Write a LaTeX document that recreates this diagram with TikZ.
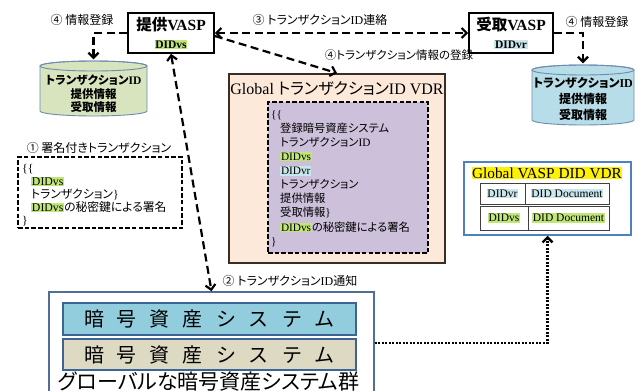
\documentclass[tikz,border=0pt]{standalone}
\usepackage{fontspec}
\setmainfont{Liberation Serif}
\newfontfamily\jp{Noto Sans CJK JP}[RawFeature=+palt]
\usetikzlibrary{arrows.meta}
\chardef\CJKclass=10
\newcount\cjkcnt
\def\setcjkrange#1#2{\cjkcnt=#1\relax
  \loop\XeTeXcharclass\cjkcnt=\CJKclass\relax
  \ifnum\cjkcnt<#2\relax\advance\cjkcnt by 1\relax\repeat}
\setcjkrange{"2460}{"24FF}
\setcjkrange{"3000}{"30FF}
\setcjkrange{"4E00}{"9FFF}
\setcjkrange{"FF00}{"FFEF}
\XeTeXinterchartokenstate=1
\XeTeXinterchartoks 0 \CJKclass={\jp}
\XeTeXinterchartoks 4095 \CJKclass={\jp}
\XeTeXinterchartoks \CJKclass 0={\rmfamily}
\XeTeXinterchartoks 4095 0={\rmfamily}
\definecolor{hlgreen}{RGB}{192,230,122}
\definecolor{hlblue}{RGB}{200,230,236}
\definecolor{cylgreen}{RGB}{215,228,189}
\definecolor{cylblue}{RGB}{183,221,232}
\definecolor{cylbd}{RGB}{110,140,175}
\definecolor{peach}{RGB}{253,233,217}
\definecolor{lavender}{RGB}{204,192,218}
\definecolor{gvbd}{RGB}{60,45,35}
\definecolor{blbd}{RGB}{79,129,189}
\definecolor{barblue}{RGB}{146,205,221}
\definecolor{bartan}{RGB}{221,217,195}
\definecolor{barbd}{RGB}{60,100,150}
\definecolor{sysbd}{RGB}{80,110,150}
\newcommand\hlG[1]{{\setlength\fboxsep{0.8pt}\colorbox{hlgreen}{#1}}}
\newcommand\hlB[1]{{\setlength\fboxsep{0.8pt}\colorbox{hlblue}{#1}}}
\newcommand\cbx[1]{\makebox[33pt]{#1}}
\begin{document}
\begin{tikzpicture}[x=1pt,y=-1pt,
  >={Straight Barb[length=5pt,width=10pt]},
  darr/.style={line width=2.2pt, dash pattern=on 8pt off 4.5pt},
  dotarr/.style={line width=2.4pt, dash pattern=on 2.2pt off 1.3pt},
  vasp/.style={draw, line width=1.6pt, fill=white, minimum width=86pt, minimum height=40pt, align=center, inner sep=1pt, font=\fontsize{15.5}{18}\selectfont},
  lab/.style={inner sep=0, font=\fontsize{12}{14}\selectfont},
  dbox/.style={draw, line width=1.5pt, dash pattern=on 4.5pt off 2.2pt, inner sep=0},
  cell/.style={draw=black!75, line width=1pt, inner sep=0, font=\fontsize{11.5}{12}\selectfont},
  bar/.style={draw=barbd, line width=1.3pt, minimum width=293pt, inner sep=0, font=\fontsize{20}{22}\selectfont}]
\useasboundingbox (0,0) rectangle (638,391);

% cylinders
\path[draw=cylbd, line width=0.9pt, fill=cylgreen] (40,66) -- (40,111) arc[start angle=180, end angle=360, x radius=53.5pt, y radius=5pt] -- (147,66) arc[start angle=0, end angle=180, x radius=53.5pt, y radius=5pt] -- cycle;
\draw[cylbd, line width=0.9pt] (93.5,66) ellipse [x radius=53.5pt, y radius=5pt];
\node[minimum width=107pt, minimum height=55pt, inner sep=0] (cylL) at (93.5,88.5) {};
\node[align=center, inner sep=0, font=\fontsize{11.5}{13.5}\selectfont\bfseries] (cylLt) at (93.5,94) {トランザクションID\\提供情報\\受取情報};

\path[draw=cylbd, line width=0.9pt, fill=cylblue] (532,70) -- (532,120) arc[start angle=180, end angle=360, x radius=51pt, y radius=5pt] -- (634,70) arc[start angle=0, end angle=180, x radius=51pt, y radius=5pt] -- cycle;
\draw[cylbd, line width=0.9pt] (583,70) ellipse [x radius=51pt, y radius=5pt];
\node[minimum width=102pt, minimum height=60pt, inner sep=0] (cylR) at (583,95) {};
\node[align=center, inner sep=0, font=\fontsize{12}{16}\selectfont\bfseries] (cylRt) at (583,99.5) {トランザクションID\\提供情報\\受取情報};

% Global transaction VDR
\node[draw=gvbd, line width=1.8pt, fill=peach, minimum width=216pt, minimum height=189pt, inner sep=0] (gvdr) at (337,168.5) {};
\node[inner sep=0, font=\fontsize{16}{18}\selectfont] (gvt) at (337,89) {Global トランザクションID VDR};
\node[dbox, fill=lavender, minimum width=160pt, minimum height=151pt] (inb) at (348,177.5) {};
\node[anchor=west, align=left, inner sep=0, font=\fontsize{11.3}{14.1}\selectfont] (inbt) at (271,178.5) {\{\{\\
\hspace*{9pt}登録暗号資産システム\\
\hspace*{9pt}トランザクションID\\
\hspace*{9pt}\hlG{DIDvs}\\
\hspace*{9pt}\hlB{DIDvr}\\
\hspace*{9pt}トランザクション\\
\hspace*{9pt}提供情報\\
\hspace*{9pt}受取情報\}\\
\hspace*{9pt}\hlG{DIDvs}の秘密鍵による署名\\
\}};

% signed transaction box
\node[dbox, minimum width=164pt, minimum height=71pt] (sigb) at (100,192.5) {};
\node[anchor=west, align=left, inner sep=0, font=\fontsize{11.8}{13}\selectfont] (sigt) at (22,195) {\{\{\\
\hspace*{9pt}\hlG{DIDvs}\\
\hspace*{9pt}トランザクション\}\\
\hspace*{9pt}\hlG{DIDvs}の秘密鍵による署名\\
\}};

% Global VASP DID VDR
\node[draw=blbd, line width=1.5pt, fill=white, minimum width=167pt, minimum height=73pt, inner sep=0] (dvdr) at (547.5,198.5) {};
\node[fill=yellow, inner sep=0.5pt, font=\fontsize{15.3}{16}\selectfont] (dvt) at (547,173) {Global VASP DID VDR};
\node[cell, minimum width=45pt, minimum height=21pt] (c11) at (502.5,193.5) {\hlB{DIDvr}};
\node[cell, minimum width=84pt, minimum height=21pt] (c12) at (567,193.5) {\hlB{DID Document}};
\node[cell, minimum width=48pt, minimum height=24pt] (c21) at (504,218) {\hlG{DIDvs}};
\node[cell, minimum width=81pt, minimum height=24pt] (c22) at (568.5,218) {\hlG{DID Document}};

% crypto asset systems
\node[draw=sysbd, line width=1.5pt, fill=white, minimum width=325pt, minimum height=108pt, inner sep=0] (sys) at (211.5,346) {};
\node[bar, fill=barblue, minimum height=32pt] (bar1) at (209.5,319) {\cbx{暗}\cbx{号}\cbx{資}\cbx{産}\cbx{シ}\cbx{ス}\cbx{テ}\cbx{ム}};
\node[bar, fill=bartan, minimum height=31pt] (bar2) at (209.5,354.5) {\cbx{暗}\cbx{号}\cbx{資}\cbx{産}\cbx{シ}\cbx{ス}\cbx{テ}\cbx{ム}};
\node[inner sep=0, font=\fontsize{21}{22}\selectfont] (syst) at (208.5,382) {グローバルな暗号資産システム群};

% VASPs
\node[vasp] (vs) at (171,33) {\bfseries 提供VASP\\{\fontsize{11.5}{12}\selectfont\bfseries\hlG{DIDvs}}};
\node[vasp, minimum width=84pt] (vr) at (511,33) {\bfseries 受取VASP\\{\fontsize{11.5}{12}\selectfont\bfseries\hlB{DIDvr}}};

% labels
\node[lab] (l4a) at (82,20) {④ 情報登録};
\node[lab] (l4b) at (597,22) {④ 情報登録};
\node[lab] (l3) at (320,20) {③ トランザクションID連絡};
\node[lab, font=\fontsize{11.5}{14}\selectfont] (l4c) at (399,55) {④トランザクション情報の登録};
\node[lab] (l1) at (99,148) {① 署名付きトランザクション};
\node[lab] (l2) at (290,281) {② トランザクションID通知};

% connectors
\draw[darr,->,shorten >=1.5pt] (vs.west) -| (cylL.north);
\draw[darr,->,shorten >=1.5pt] (vr.east) -| (cylR.north);
\draw[darr,<->] (vs.east) -- (vr.west);
\draw[darr,->] ([yshift=-3pt]vs.east) -- (gvdr.north);
\draw[darr,<->] (vs.south) -- (sys.north);
\draw[dotarr,->] ([yshift=3pt]sys.east) -| (dvdr.south);
\end{tikzpicture}
\end{document}
